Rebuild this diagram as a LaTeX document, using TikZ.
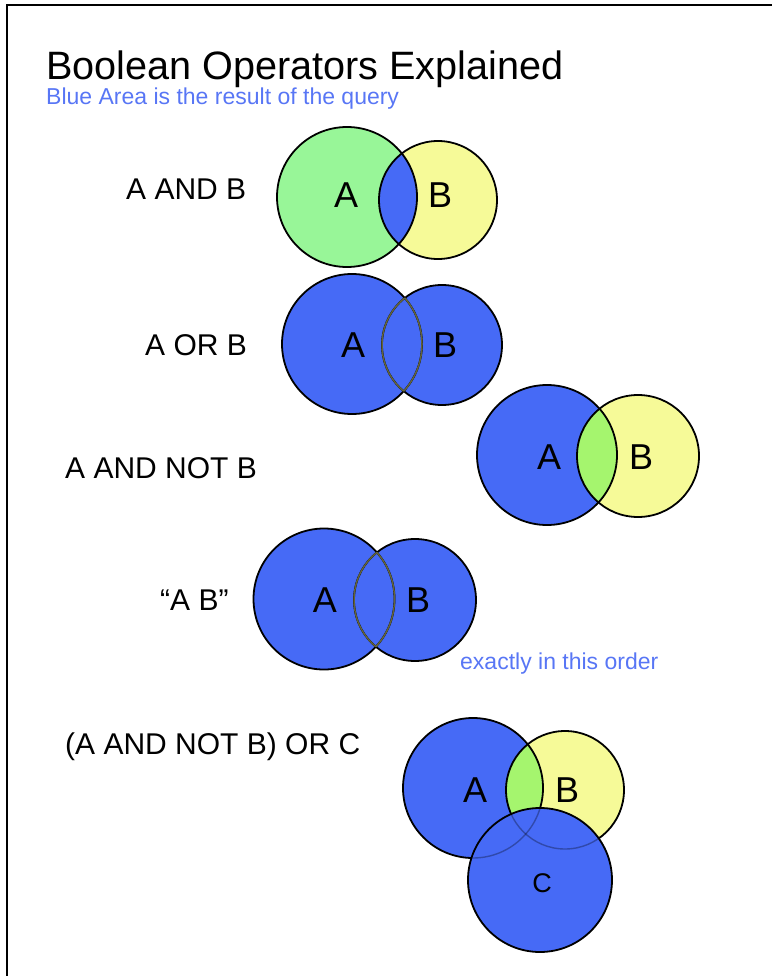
\documentclass[tikz,border=0pt]{standalone}
\usepackage{fontspec}
\setmainfont{Liberation Sans}
\definecolor{vblue}{RGB}{70,106,246}
\definecolor{vgreen}{RGB}{152,246,152}
\definecolor{vyellow}{RGB}{246,250,152}
\definecolor{vlime}{RGB}{165,245,110}
\definecolor{tblue}{RGB}{88,118,245}
\definecolor{arcol}{RGB}{100,100,60}
\begin{document}
\begin{tikzpicture}[x=1pt,y=-1pt,
  ring/.style={draw=black,line width=1.8pt},
  faint/.style={draw=arcol,line width=1.5pt},
  lbl/.style={anchor=base west,inner sep=0pt,font=\fontsize{30}{34}\selectfont},
  vl/.style={anchor=base,inner sep=0pt,font=\fontsize{36}{40}\selectfont},
  note/.style={anchor=base west,inner sep=0pt,text=tblue,font=\fontsize{23}{26}\selectfont}]
\useasboundingbox (0,0) rectangle (772,976);
\draw[line width=1.3pt] (7,976) -- (7,5) -- (772,5);

\node[anchor=base west,inner sep=0pt,font=\fontsize{39.6}{44}\selectfont] (title) at (46,80) {\raisebox{0pt}[\height][0pt]{Boolean Operators Explained}};
\node[note] (sub) at (46,105) {Blue Area is the result of the query};

% labels
\node[lbl] (l1) at (126,200) {A AND B};
\node[lbl] (l2) at (145,355) {A OR B};
\node[lbl] (l3) at (65,478) {A AND NOT B};
\node[lbl] (l4) at (160,610) {“A B”};
\node[lbl] (l5) at (65,754) {(A AND NOT B) OR C};

% Venn 1: A AND B
\coordinate (a1) at (347,197);
\coordinate (b1) at (438,200);
\fill[vgreen] (a1) circle (70);
\fill[vyellow] (b1) circle (59);
\begin{scope}\clip (a1) circle (70); \fill[vblue] (b1) circle (59);\end{scope}
\draw[ring] (a1) circle (70);
\draw[ring] (b1) circle (59);
\node[vl] (ta1) at (346,208) {A};
\node[vl] (tb1) at (440,208) {B};

% Venn 2: A OR B
\coordinate (a2) at (352,344);
\coordinate (b2) at (442,345);
\fill[vblue] (a2) circle (70);
\fill[vblue] (b2) circle (60);
\draw[ring] (a2) circle (70);
\draw[ring] (b2) circle (60);
\begin{scope}\clip (a2) circle (70); \draw[faint] (b2) circle (60);\end{scope}
\begin{scope}\clip (b2) circle (60); \draw[faint] (a2) circle (70);\end{scope}
\node[vl] (ta2) at (353,357) {A};
\node[vl] (tb2) at (445,357) {B};

% Venn 3: A AND NOT B
\coordinate (a3) at (547,455);
\coordinate (b3) at (638,456);
\fill[vblue] (a3) circle (70);
\fill[vyellow] (b3) circle (61);
\begin{scope}\clip (a3) circle (70); \fill[vlime] (b3) circle (61);\end{scope}
\draw[ring] (a3) circle (70);
\draw[ring] (b3) circle (61);
\node[vl] (ta3) at (549,469) {A};
\node[vl] (tb3) at (641,469) {B};

% Venn 4: "A B"
\coordinate (a4) at (324,599);
\coordinate (b4) at (415,600);
\fill[vblue] (a4) circle (70.5);
\fill[vblue] (b4) circle (61);
\draw[ring] (a4) circle (70.5);
\draw[ring] (b4) circle (61);
\begin{scope}\clip (a4) circle (70.5); \draw[faint] (b4) circle (61);\end{scope}
\begin{scope}\clip (b4) circle (61); \draw[faint] (a4) circle (70.5);\end{scope}
\node[vl] (ta4) at (325,612) {A};
\node[vl] (tb4) at (418,612) {B};
\node[note] (order) at (460,669) {exactly in this order};

% Venn 5: (A AND NOT B) OR C
\coordinate (a5) at (473,788);
\coordinate (b5) at (565,790);
\coordinate (c5) at (540,880);
\fill[vblue] (a5) circle (70);
\fill[vyellow] (b5) circle (59);
\begin{scope}\clip (a5) circle (70); \fill[vlime] (b5) circle (59);\end{scope}
\draw[ring] (a5) circle (70);
\draw[ring] (b5) circle (59);
\fill[vblue] (c5) circle (72);
\begin{scope}\clip (c5) circle (72);
  \draw[line width=1.4pt,draw=black,draw opacity=0.3] (a5) circle (70);
  \draw[line width=1.4pt,draw=black,draw opacity=0.3] (b5) circle (59);
\end{scope}
\draw[ring] (c5) circle (72);
\node[vl] (ta5) at (475,802) {A};
\node[vl] (tb5) at (567,802) {B};
\node[vl,font=\fontsize{27}{30}\selectfont] (tc5) at (542,892) {C};
\end{tikzpicture}
\end{document}
